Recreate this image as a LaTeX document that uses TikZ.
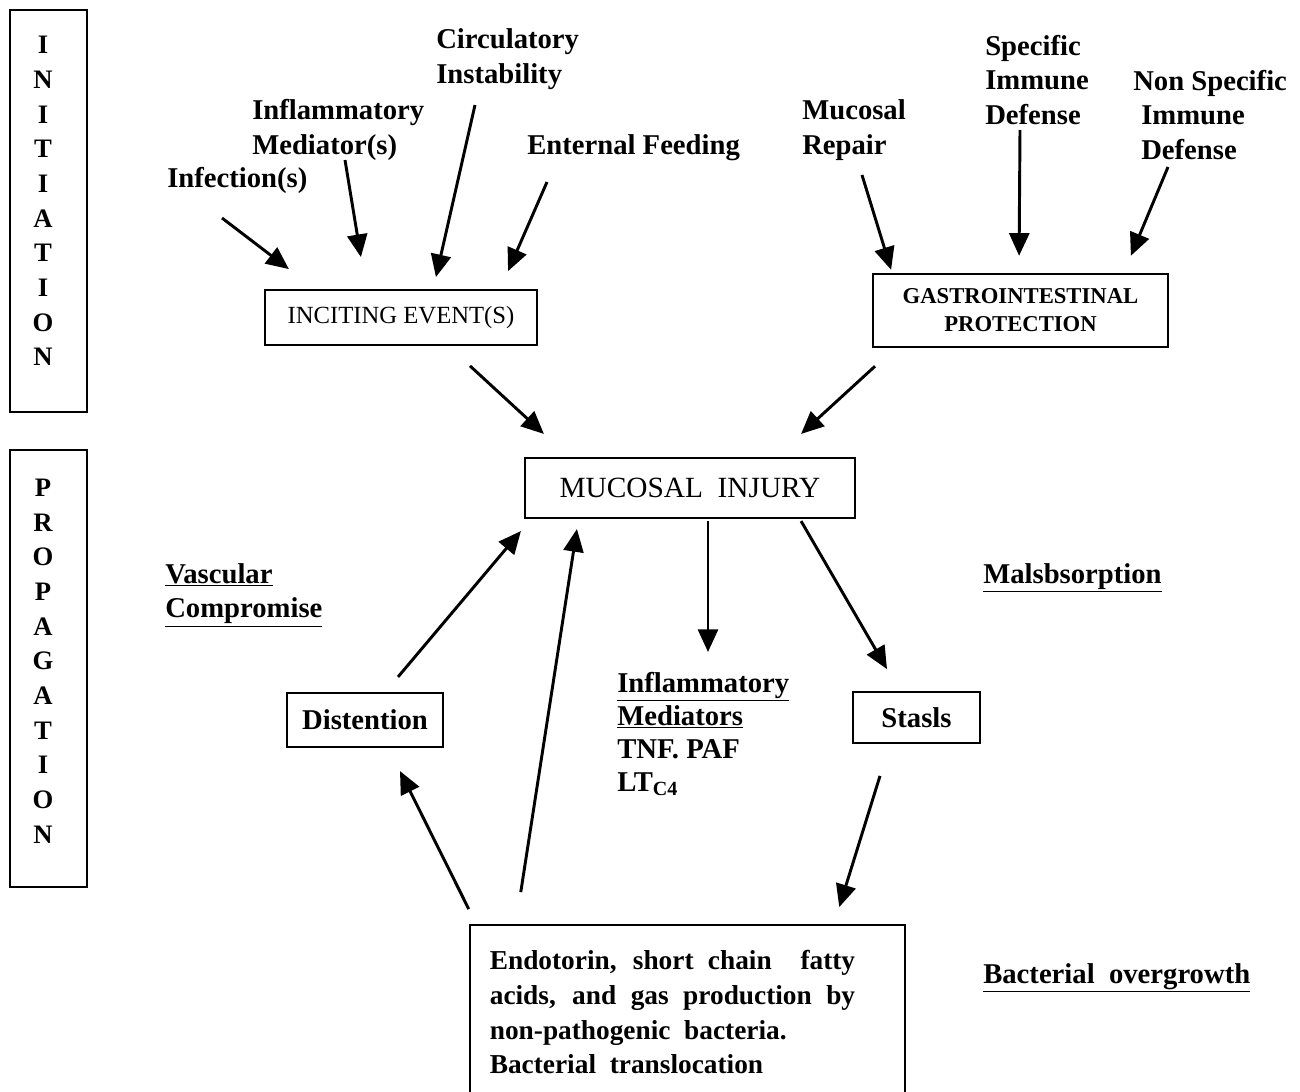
\documentclass[tikz,border=0pt]{standalone}
\usepackage{fontspec}
\setmainfont{Liberation Serif}
\usetikzlibrary{arrows.meta}
\begin{document}
\begin{tikzpicture}[x=0.75pt,y=-0.75pt,
  lbl/.style={font=\bfseries\fontsize{21.5}{26}\selectfont, inner sep=0pt, anchor=west, align=left},
  box/.style={draw, line width=1.6pt, inner sep=0pt},
  vert/.style={font=\bfseries\fontsize{20}{26}\selectfont, inner sep=0pt, align=center},
  arr/.style={line width=2.2pt, -{Triangle[length=17pt,width=15pt]}},
]
\useasboundingbox[fill=white] (0,0) rectangle (1300,1092);

% side boxes
\node[box, minimum width=57.75pt, minimum height=301.5pt] (initbox) at (48.5,211) {};
\node[vert] (inittext) at (43,201) {I\\N\\I\\T\\I\\A\\T\\I\\O\\N};
\node[box, minimum width=57.75pt, minimum height=327.75pt] (propbox) at (48.5,668.5) {};
\node[vert] (proptext) at (43,661) {P\\R\\O\\P\\A\\G\\A\\T\\I\\O\\N};

% labels (initiation)
\node[lbl] (infect) at (167,180) {Infection(s)};
\node[lbl] (infmed) at (252,130) {Inflammatory\\Mediator(s)};
\node[lbl] (circ) at (436,59) {Circulatory\\Instability};
\node[lbl] (enteral) at (527,148) {Enternal Feeding};
\node[lbl] (mrep) at (802,130) {Mucosal\\Repair};
\node[lbl] (spec) at (985,80) {Specific\\Immune\\Defense};
\node[lbl] (nonspec) at (1133,115) {Non Specific\\\hspace*{6pt}Immune\\\hspace*{6pt}Defense};

% boxes
\node[box, minimum width=204pt, minimum height=41pt, font=\fontsize{18.5}{21}\selectfont] (incite) at (401,317.5) {INCITING EVENT(S)};
\node[box, minimum width=221pt, minimum height=55pt, align=center, font=\bfseries\fontsize{17}{21}\selectfont] (gip) at (1020.5,310.5) {GASTROINTESTINAL\\PROTECTION};
\node[box, minimum width=247.5pt, minimum height=45pt, font=\fontsize{22}{26}\selectfont] (mucosal) at (690,488) {MUCOSAL\ \ INJURY};
\node[box, minimum width=117pt, minimum height=40.5pt, font=\bfseries\fontsize{21.5}{26}\selectfont] (dist) at (365,720) {Distention};
\node[box, minimum width=95pt, minimum height=38pt, font=\bfseries\fontsize{21.5}{26}\selectfont] (stasis) at (916.5,717.5) {Stasls};
\node[box, minimum height=131pt, inner xsep=15pt, font=\bfseries\fontsize{20.5}{26}\selectfont] (bottom) at (687.5,1012.5)
  {\parbox[c]{274pt}{Endotorin, short chain\ \ fatty\linebreak acids, and gas production by\linebreak non-pathogenic\ \ bacteria.\\ Bacterial\ \ translocation}\hspace*{22.5pt}};

% labels (propagation)
\node[lbl] (vasc) at (165,595) {\underline{Vascular}\\\underline{Compromise}};
\node[lbl] (malabs) at (983,578) {\underline{Malsbsorption}};
\node[lbl, font=\bfseries\fontsize{21.5}{24.75}\selectfont] (infm2) at (617,734) {\underline{Inflammatory}\\\underline{Mediators}\\TNF. PAF\\LT\textsubscript{C4}};
\node[lbl] (bacov) at (983,978) {\underline{Bacterial\ \ overgrowth}};

% initiation arrows
\draw[arr] ([shift={(55,38)}]infect.west) -- ([shift={(25,-20)}]incite.north west);
\draw[arr] ([shift={(93,30)}]infmed.west) -- ([shift={(97,-32)}]incite.north west);
\draw[arr] ([shift={(39,46)}]circ.west) -- ([shift={(172,-12)}]incite.north west);
\draw[arr] ([shift={(20,34)}]enteral.west) -- ([shift={(-30,-18)}]incite.north east);
\draw[arr] ([shift={(60,45)}]mrep.west) -- ([shift={(19,-3)}]gip.north west);
\draw[arr] ([shift={(35,50)}]spec.west) -- ([shift={(147,-17)}]gip.north west);
\draw[arr] ([shift={(35,52)}]nonspec.west) -- ([shift={(-38,-17)}]gip.north east);

% to mucosal injury
\draw[arr] ([shift={(69,20)}]incite.south) -- ([shift={(20,-23)}]mucosal.north west);
\draw[arr] ([shift={(-145.5,18)}]gip.south) -- ([shift={(-55,-23)}]mucosal.north east);

% propagation arrows
\draw[arr] ([shift={(18,2)}]mucosal.south) -- ([shift={(91,-82)}]infm2.west);
\draw[arr] ([shift={(-55,2)}]mucosal.south east) -- ([shift={(-29.5,-22)}]stasis.north);
\draw[arr] ([shift={(-36.5,32)}]stasis.south) -- ([shift={(-67,-17)}]bottom.north east);
\draw[arr] ([shift={(0,-15)}]bottom.north west) -- ([shift={(35,23)}]dist.south);
\draw[arr] ([shift={(52,-32)}]bottom.north west) -- ([shift={(53,10)}]mucosal.south west);
\draw[arr] ([shift={(33,-15)}]dist.north) -- ([shift={(-3,12)}]mucosal.south west);
\end{tikzpicture}
\end{document}
